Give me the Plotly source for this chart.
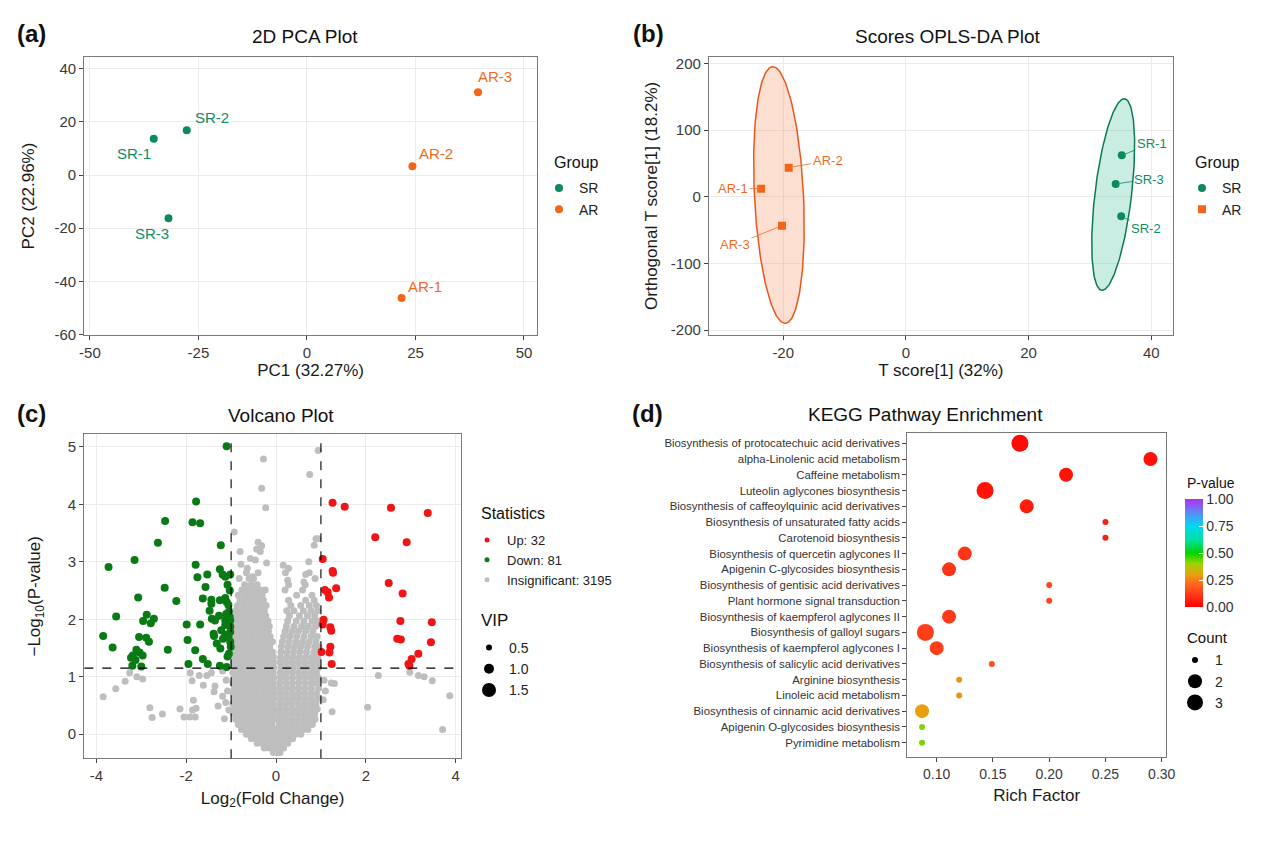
import numpy as np
import plotly.graph_objects as go

FONT = "Liberation Sans, Arial, Helvetica, sans-serif"
W, H = 1264, 851

# ---------------- (a) PCA data ----------------
pca_labels = ["SR-1", "SR-2", "SR-3", "AR-1", "AR-2", "AR-3"]
pca_group = ["SR", "SR", "SR", "AR", "AR", "AR"]
pca_pc1 = [-35.3, -27.7, -31.9, 21.8, 24.3, 39.4]
pca_pc2 = [13.6, 16.8, -16.3, -46.3, 3.3, 31.1]

# ---------------- (b) OPLS-DA data ----------------
opls_labels = ["SR-1", "SR-2", "SR-3", "AR-1", "AR-2", "AR-3"]
opls_group = ["SR", "SR", "SR", "AR", "AR", "AR"]
opls_t = [35.2, 35.1, 34.2, -23.6, -19.1, -20.2]
opls_o = [62.0, -29.5, 19.0, 12.0, 43.5, -43.5]
ellipse_group = ["AR", "SR"]
ellipse_cx = [-20.7, 33.8]
ellipse_cy = [2.5, 3.25]
ellipse_halfwidth = [4.0, 3.0]
ellipse_shear = [-1.0, 1.8]
ellipse_halfheight = [192.5, 143.75]

# ---------------- (c) Volcano data ----------------
fc_threshold = 1.0
p_threshold = 1.15
n_up, n_down, n_insig = 32, 81, 3195

down_x = [-1.10, -1.78, -2.47, -1.86, -1.69, -2.63, -1.23, -3.73, -3.15, -1.79,
          -1.75, -1.53, -1.25, -1.19, -1.13, -1.02, -2.48, -1.57, -1.08, -3.07,
          -2.22, -1.63, -1.44, -1.44, -1.13, -1.10, -3.56, -2.88, -2.72, -2.96,
          -2.79, -1.43, -1.36, -1.27, -1.11, -1.05, -1.99, -1.69, -1.13, -1.03,
          -3.85, -3.05, -2.89, -2.83, -1.38, -1.18, -1.13, -1.06, -1.02, -1.97,
          -3.64, -2.41, -3.11, -3.04, -3.19, -3.23, -2.97, -1.80, -1.32, -1.24,
          -1.63, -1.08, -1.05, -3.20, -3.00, -1.95, -1.52, -1.25, -1.10, -1.02,
          -1.02, -1.39, -1.13, -1.03, -1.06, -1.22, -1.01, -3.13, -1.25, -1.48, -1.02]
down_y = [5.01, 4.05, 3.71, 3.69, 3.67, 3.33, 3.29, 2.91, 3.03, 2.95,
          2.73, 2.78, 2.87, 2.78, 2.74, 2.78, 2.55, 2.56, 2.60, 2.38,
          2.32, 2.36, 2.34, 2.27, 2.37, 2.30, 2.05, 2.08, 2.01, 1.97,
          1.93, 2.01, 1.98, 2.06, 2.09, 2.13, 1.91, 1.91, 1.98, 2.04,
          1.71, 1.69, 1.68, 1.61, 1.71, 1.66, 1.73, 1.69, 1.61, 1.64,
          1.51, 1.47, 1.47, 1.42, 1.37, 1.33, 1.37, 1.46, 1.58, 1.49,
          1.31, 1.35, 1.40, 1.19, 1.18, 1.22, 1.22, 1.19, 1.17, 1.87,
          1.78, 1.75, 1.90, 2.50, 2.25, 1.81, 1.52, 1.29, 2.33, 2.15, 1.98]

up_x = [1.26, 1.53, 2.56, 3.38, 2.21, 2.91, 1.04, 1.26, 1.27, 2.51,
        1.34, 1.15, 1.18, 2.82, 1.06, 1.04, 1.21, 1.23, 2.77, 3.47,
        2.70, 2.78, 3.45, 1.01, 1.21, 1.19, 3.17, 3.02, 2.95, 2.97,
        1.24, 1.09]
up_y = [4.03, 3.96, 3.94, 3.85, 3.43, 3.34, 3.05, 2.84, 2.81, 2.63,
        2.54, 2.47, 2.38, 2.45, 1.99, 1.91, 1.86, 1.80, 1.97, 1.95,
        1.66, 1.65, 1.60, 1.43, 1.52, 1.42, 1.40, 1.31, 1.22, 1.19,
        1.22, 2.51]

# insignificant cloud: rows of (-log10 p, [log2 FC values])
gray_rows = [
    (-0.32, [-0.06, 0.02, 0.09]),
    (-0.24, [-0.26, -0.15, -0.04, 0.06, 0.17]),
    (-0.16, [-0.42, -0.31, -0.19, -0.08, 0.03, 0.14, 0.26]),
    (-0.08, [-0.55, -0.43, -0.31, -0.20, -0.09, 0.02, 0.13, 0.25, 0.37]),
    (0.00, [-0.66, -0.54, -0.42, -0.30, -0.18, -0.06, 0.05, 0.17, 0.30, 0.43, 0.55]),
    (0.08, [-0.77, -0.64, -0.51, -0.38, -0.26, -0.13, -0.03, 0.08, 0.21, 0.34, 0.47, 0.61, 0.71]),
    (0.17, [-0.84, -0.72, -0.59, -0.46, -0.33, -0.21, -0.09, 0.07, 0.19, 0.32, 0.45, 0.58, 0.71, 0.81]),
    (0.26, [-0.90, -0.78, -0.65, -0.52, -0.39, -0.26, -0.13, -0.03, 0.09, 0.22, 0.36, 0.50, 0.64, 0.77, 0.87]),
    (0.35, [-0.94, -0.82, -0.70, -0.57, -0.44, -0.31, -0.18, -0.06, 0.08, 0.20, 0.33, 0.47, 0.61, 0.74, 0.86]),
    (0.44, [-0.92, -0.80, -0.66, -0.53, -0.40, -0.27, -0.14, -0.04, 0.09, 0.23, 0.37, 0.51, 0.65, 0.79, 0.92]),
    (0.53, [-0.96, -0.84, -0.71, -0.58, -0.45, -0.32, -0.19, -0.07, 0.08, 0.21, 0.34, 0.48, 0.62, 0.76, 0.89]),
    (0.62, [-0.92, -0.79, -0.65, -0.52, -0.39, -0.26, -0.13, -0.04, 0.10, 0.24, 0.38, 0.52, 0.66, 0.80, 0.94]),
    (0.71, [-0.95, -0.82, -0.69, -0.56, -0.43, -0.30, -0.17, -0.06, 0.08, 0.21, 0.35, 0.49, 0.63, 0.77, 0.90]),
    (0.80, [-0.93, -0.80, -0.67, -0.54, -0.41, -0.28, -0.15, -0.04, 0.10, 0.24, 0.37, 0.51, 0.65, 0.79, 0.95]),
    (0.89, [-0.96, -0.84, -0.71, -0.58, -0.45, -0.32, -0.19, -0.07, 0.08, 0.22, 0.36, 0.50, 0.64, 0.78, 0.91]),
    (0.98, [-0.93, -0.80, -0.67, -0.54, -0.41, -0.28, -0.15, -0.05, 0.10, 0.23, 0.37, 0.52, 0.66, 0.80, 0.94]),
    (1.07, [-0.96, -0.83, -0.70, -0.57, -0.44, -0.31, -0.18, -0.07, 0.09, 0.22, 0.36, 0.50, 0.63, 0.77, 0.90]),
    (1.16, [-0.92, -0.79, -0.66, -0.53, -0.40, -0.27, -0.14, -0.05, 0.11, 0.25, 0.39, 0.53, 0.67, 0.81, 0.95]),
    (1.25, [-0.95, -0.82, -0.69, -0.56, -0.43, -0.30, -0.17, -0.06, 0.09, 0.22, 0.36, 0.50, 0.64, 0.78, 0.91]),
    (1.34, [-0.93, -0.81, -0.68, -0.55, -0.42, -0.29, -0.16, -0.06, 0.10, 0.24, 0.38, 0.52, 0.66, 0.80, 0.93]),
    (1.43, [-0.96, -0.83, -0.70, -0.57, -0.44, -0.31, -0.18, -0.08, 0.11, 0.25, 0.39, 0.53, 0.68, 0.84]),
    (1.52, [-0.92, -0.79, -0.66, -0.53, -0.40, -0.27, -0.14, 0.12, 0.27, 0.41, 0.55, 0.70, 0.86, 0.96]),
    (1.61, [-0.95, -0.82, -0.69, -0.56, -0.43, -0.30, -0.17, -0.08, 0.14, 0.29, 0.44, 0.59, 0.74, 0.89]),
    (1.70, [-0.91, -0.78, -0.65, -0.52, -0.39, -0.26, -0.13, 0.17, 0.31, 0.46, 0.62, 0.78, 0.92]),
    (1.79, [-0.94, -0.81, -0.68, -0.55, -0.42, -0.29, -0.17, 0.20, 0.35, 0.50, 0.66, 0.82]),
    (1.88, [-0.90, -0.77, -0.64, -0.51, -0.38, -0.25, -0.15, 0.23, 0.40, 0.57, 0.72, 0.88]),
    (1.97, [-0.93, -0.80, -0.67, -0.54, -0.41, -0.28, -0.18, 0.26, 0.45, 0.62, 0.80, 0.94]),
    (2.06, [-0.88, -0.75, -0.62, -0.49, -0.36, -0.23, 0.30, 0.52, 0.70, 0.86]),
    (2.15, [-0.91, -0.78, -0.65, -0.52, -0.39, -0.26, 0.24, 0.40, 0.61, 0.78, 0.93]),
    (2.24, [-0.86, -0.72, -0.58, -0.45, -0.32, -0.22, 0.33, 0.55, 0.74, 0.90]),
    (2.33, [-0.80, -0.66, -0.52, -0.40, -0.28, 0.28, 0.66, 0.85]),
    (2.42, [-0.84, -0.70, -0.57, -0.44, -0.31, 0.46, 0.80]),
    (2.51, [-0.76, -0.62, -0.48, -0.35, -0.24, 0.20, 0.59]),
    (2.60, [-0.70, -0.55, -0.42, 0.28, 0.65]),
    (2.71, [-0.82, -0.60, -0.50, 0.87]),
    (2.81, [-0.66, -0.40, 0.21, 0.74]),
]
gray_extra_x = [-0.28, -0.32, -0.23, -0.93, 0.94, 0.75, -0.40, -0.32, -0.43, -0.35,
                -0.80, -0.46, -0.21, -0.57, -0.78, -0.64, -0.53, 0.16, 0.28, 0.26,
                0.66, 0.62, 0.73, 0.85, 0.89, 0.94,
                -3.85, -3.57, -3.36, -3.26, -3.10, -2.97, -2.81, -2.76, -2.53, -2.14,
                -2.05, -1.92, -1.86, -1.80, -1.78, -1.84, -1.91, -1.87, -1.71, -1.62,
                -1.54, -1.44, -1.38, -1.29, -1.19, -1.11, -1.15, -1.19, -1.36, -1.05,
                -1.08, -1.12,
                2.28, 2.98, 3.17, 3.30, 3.48, 3.87, 2.04, 3.71, 1.23, 1.30,
                1.25, 1.07, 1.05, 1.10]
gray_extra_y = [4.79, 4.28, 3.94, 3.52, 4.94, 4.52, 3.34, 3.28, 3.22, 3.18,
                3.18, 3.03, 2.98, 3.06, 2.96, 2.89, 2.74, 2.94, 2.89, 2.68,
                2.78, 2.65, 3.00, 3.29, 3.40, 3.40,
                0.65, 0.79, 0.92, 1.07, 1.00, 0.96, 0.46, 0.29, 0.35, 0.44,
                0.30, 0.30, 0.42, 0.30, 0.45, 0.59, 1.07, 0.93, 1.02, 0.85,
                1.02, 1.07, 0.74, 0.49, 0.66, 0.94, 0.27, 1.10, 0.84, 0.42,
                0.75, 0.55,
                1.02, 1.08, 1.02, 1.00, 0.93, 0.67, 0.47, 0.08, 0.89, 0.88,
                0.39, 0.94, 0.60, 0.75]
gray_x = [x for _, xs in gray_rows for x in xs] + gray_extra_x
gray_y = [y for y, xs in gray_rows for _ in xs] + gray_extra_y

vip_levels = [0.5, 1.0, 1.5]

# ---------------- (d) KEGG data ----------------
kegg_pathways = [
    "Biosynthesis of protocatechuic acid derivatives",
    "alpha-Linolenic acid metabolism",
    "Caffeine metabolism",
    "Luteolin aglycones biosynthesis",
    "Biosynthesis of caffeoylquinic acid derivatives",
    "Biosynthesis of unsaturated fatty acids",
    "Carotenoid biosynthesis",
    "Biosynthesis of quercetin aglycones II",
    "Apigenin C-glycosides biosynthesis",
    "Biosynthesis of gentisic acid derivatives",
    "Plant hormone signal transduction",
    "Biosynthesis of kaempferol aglycones II",
    "Biosynthesis of galloyl sugars",
    "Biosynthesis of kaempferol aglycones I",
    "Biosynthesis of salicylic acid derivatives",
    "Arginine biosynthesis",
    "Linoleic acid metabolism",
    "Biosynthesis of cinnamic acid derivatives",
    "Apigenin O-glycosides biosynthesis",
    "Pyrimidine metabolism",
]
kegg_rich = [0.174, 0.290, 0.215, 0.143, 0.180, 0.250, 0.250, 0.125, 0.111, 0.200,
             0.200, 0.111, 0.090, 0.100, 0.149, 0.120, 0.120, 0.087, 0.087, 0.087]
kegg_p = [0.02, 0.03, 0.04, 0.04, 0.06, 0.06, 0.06, 0.11, 0.11, 0.14,
          0.14, 0.12, 0.13, 0.13, 0.16, 0.28, 0.28, 0.30, 0.42, 0.42]
kegg_count = [3, 2, 2, 3, 2, 1, 1, 2, 2, 1, 1, 2, 3, 2, 1, 1, 1, 2, 1, 1]
count_levels = [1, 2, 3]

# ---------------- styles ----------------
C_SR = "#0B8A5E"
C_AR = "#F2661A"
C_SR_TXT = "#0E8C62"
C_AR_TXT = "#F26A1E"
C_UP = "#F01414"
C_DOWN = "#0A7A14"
C_NS = "#BEBEBE"
grp_color = {"SR": C_SR, "AR": C_AR}
grp_txt = {"SR": C_SR_TXT, "AR": C_AR_TXT}
ell_line = {"AR": "#E8561E", "SR": "#0B7A50"}
ell_fill = {"AR": "rgba(248,140,90,0.28)", "SR": "rgba(50,185,145,0.26)"}
count_size = {1: 6, 2: 14, 3: 17}
vip_size = {0.5: 6, 1.0: 10, 1.5: 14}
p_colorscale = [[0.0, "#FF0000"], [0.12, "#FF3A1A"], [0.22, "#FF6A1E"], [0.3, "#E8A010"],
                [0.4, "#9CD400"], [0.5, "#00D400"], [0.62, "#00E0A0"], [0.75, "#00D8F0"],
                [0.87, "#5A8CF5"], [1.0, "#B030F0"]]

# label offsets (pixels) – style only
pca_shift = {"SR-1": (-20, -15), "SR-2": (25, 13), "SR-3": (-17, -15),
             "AR-1": (23, 12), "AR-2": (24, 13), "AR-3": (17, 16)}
opls_shift = {"SR-1": (30, -12), "SR-2": (25, 12), "SR-3": (33, -5),
              "AR-1": (-28, 0), "AR-2": (39, -7), "AR-3": (-47, 19)}


def px(xp):
    return xp / W


def py(yp):
    return 1 - yp / H


def hyphen(vals, fmt="{:g}"):
    return [fmt.format(v).replace("\u2212", "-") for v in vals]


fig = go.Figure()

# (a)
for g in ["SR", "AR"]:
    idx = [i for i, gg in enumerate(pca_group) if gg == g]
    fig.add_trace(go.Scatter(
        x=[pca_pc1[i] for i in idx], y=[pca_pc2[i] for i in idx], mode="markers",
        marker=dict(color=grp_color[g], size=8), name=g, xaxis="x", yaxis="y",
        legend="legend", hoverinfo="skip"))

# (b) ellipses
t = np.linspace(0, 2 * np.pi, 200)
for k, g in enumerate(ellipse_group):
    ex = ellipse_cx[k] + ellipse_halfwidth[k] * np.cos(t) + ellipse_shear[k] * np.sin(t)
    ey = ellipse_cy[k] + ellipse_halfheight[k] * np.sin(t)
    fig.add_trace(go.Scatter(x=ex, y=ey, mode="lines", fill="toself",
                             fillcolor=ell_fill[g], line=dict(color=ell_line[g], width=1.5),
                             xaxis="x2", yaxis="y2", showlegend=False, hoverinfo="skip"))
for g, sym in [("SR", "circle"), ("AR", "square")]:
    idx = [i for i, gg in enumerate(opls_group) if gg == g]
    fig.add_trace(go.Scatter(
        x=[opls_t[i] for i in idx], y=[opls_o[i] for i in idx], mode="markers",
        marker=dict(color=grp_color[g], size=8, symbol=sym), name=g,
        xaxis="x2", yaxis="y2", legend="legend2", hoverinfo="skip"))

# (c) volcano
fig.add_trace(go.Scatter(x=gray_x, y=gray_y, mode="markers",
                         marker=dict(color=C_NS, size=7), xaxis="x3", yaxis="y3",
                         showlegend=False, hoverinfo="skip"))
fig.add_trace(go.Scatter(x=down_x, y=down_y, mode="markers",
                         marker=dict(color=C_DOWN, size=8), xaxis="x3", yaxis="y3",
                         showlegend=False, hoverinfo="skip"))
fig.add_trace(go.Scatter(x=up_x, y=up_y, mode="markers",
                         marker=dict(color=C_UP, size=8), xaxis="x3", yaxis="y3",
                         showlegend=False, hoverinfo="skip"))
for name, col in [(f"Up: {n_up}", C_UP), (f"Down: {n_down}", C_DOWN),
                  (f"Insignificant: {n_insig}", C_NS)]:
    fig.add_trace(go.Scatter(x=[None], y=[None], mode="markers", name=name,
                             marker=dict(color=col, size=5), xaxis="x3", yaxis="y3",
                             legend="legend3"))
for v in vip_levels:
    fig.add_trace(go.Scatter(x=[None], y=[None], mode="markers", name=f"{v:.1f}",
                             marker=dict(color="black", size=vip_size[v]), xaxis="x3",
                             yaxis="y3", legend="legend4"))

# (d) KEGG
fig.add_trace(go.Scatter(
    x=kegg_rich, y=kegg_pathways, mode="markers", xaxis="x4", yaxis="y4",
    marker=dict(size=[count_size[c] for c in kegg_count], color=kegg_p,
                colorscale=p_colorscale, cmin=0, cmax=1, opacity=1,
                line=dict(width=0),
                colorbar=dict(x=px(1185), xanchor="left", xpad=0, ypad=0,
                              y=py(553), yanchor="middle", len=108 / H, lenmode="fraction",
                              thickness=18, outlinewidth=0,
                              tickvals=[0, 0.25, 0.5, 0.75, 1.0],
                              ticktext=["0.00", "0.25", "0.50", "0.75", "1.00"],
                              ticks="inside", ticklen=4, tickcolor="white",
                              tickfont=dict(size=14, color="#333333", family=FONT))),
    showlegend=False, hoverinfo="skip"))
for c in count_levels:
    fig.add_trace(go.Scatter(x=[None], y=[None], mode="markers", name=str(c),
                             marker=dict(color="black", size=count_size[c]),
                             xaxis="x4", yaxis="y4", legend="legend5"))

# ---------------- axes ----------------
tickfont = dict(size=15, color="#3a3a3a", family=FONT)
titlefont = dict(size=17, color="#1a1a1a", family=FONT)


def ax(domain, rng, tickvals, title, anchor, standoff, grid=True, ticktext=None, **kw):
    d = dict(domain=domain, range=rng, tickvals=tickvals,
             ticktext=ticktext if ticktext is not None else hyphen(tickvals),
             anchor=anchor,
             showline=True, mirror=True, linecolor="#7a7a7a", linewidth=1.2,
             ticks="outside", ticklen=4, tickcolor="#444444", tickwidth=1,
             showgrid=grid, gridcolor="#EBEBEB", gridwidth=1, zeroline=False,
             tickfont=tickfont, automargin=False,
             title=dict(text=title, font=titlefont, standoff=standoff))
    d.update(kw)
    return d


layout = dict(
    width=W, height=H, margin=dict(l=0, r=0, t=0, b=0),
    paper_bgcolor="white", plot_bgcolor="white", font=dict(family=FONT),
    xaxis=ax([px(84.3), px(537)], [-51.3, 53.0], [-50, -25, 0, 25, 50], "PC1 (32.27%)", "y", 3),
    yaxis=ax([py(335), py(57)], [-60.2, 44.4], [-60, -40, -20, 0, 20, 40], "PC2 (22.96%)", "x", 15),
    xaxis2=ax([px(709), px(1172.7)], [-32.1, 43.5], [-20, 0, 20, 40], "T score[1] (32%)", "y2", 3),
    yaxis2=ax([py(335), py(56.7)], [-207.5, 210], [-200, -100, 0, 100, 200],
              "Orthogonal T score[1] (18.2%)", "x2", 8),
    xaxis3=ax([px(84.3), px(461)], [-4.27, 4.12], [-4, -2, 0, 2, 4],
              "Log<sub>2</sub>(Fold Change)", "y3", 8),
    yaxis3=ax([py(758.3), py(434.3)], [-0.42, 5.22], [0, 1, 2, 3, 4, 5],
              "\u2212Log<sub>10</sub>(P-value)", "x3", 22),
    xaxis4=ax([px(907.3), px(1166)], [0.0739, 0.3038], [0.10, 0.15, 0.20, 0.25, 0.30],
              "Rich Factor", "y4", 8, grid=False,
              ticktext=["0.10", "0.15", "0.20", "0.25", "0.30"],
              tickfont=dict(size=14, color="#3a3a3a", family=FONT)),
    yaxis4=dict(domain=[py(756.7), py(433.3)], anchor="x4", type="category",
                categoryorder="array", categoryarray=kegg_pathways,
                range=[19.89, -0.635], showline=True, mirror=True, linecolor="#7a7a7a",
                linewidth=1.2, ticks="outside", ticklen=4, tickcolor="#444444",
                showgrid=False, zeroline=False, automargin=False,
                tickfont=dict(size=11.4, color="#333333", family=FONT)),
)

leg_common = dict(xanchor="left", yanchor="top", bgcolor="rgba(0,0,0,0)",
                  borderwidth=0, tracegroupgap=0, itemclick=False, itemdoubleclick=False)
layout["legend"] = dict(x=px(539), y=py(172.4), font=dict(size=14, color="#222", family=FONT), **leg_common)
layout["legend2"] = dict(x=px(1182), y=py(172.4), font=dict(size=14, color="#222", family=FONT), **leg_common)
layout["legend3"] = dict(x=px(467), y=py(525), font=dict(size=13, color="#222", family=FONT), **leg_common)
layout["legend4"] = dict(x=px(469), y=py(632), font=dict(size=14, color="#222", family=FONT), **leg_common)
layout["legend5"] = dict(x=px(1175), y=py(644.4), font=dict(size=14, color="#222", family=FONT), **leg_common)

fig.update_layout(**layout)

# dashed threshold lines
for xv in [-fc_threshold, fc_threshold]:
    fig.add_shape(type="line", xref="x3", yref="y3 domain", x0=xv, x1=xv, y0=0, y1=1,
                  line=dict(color="black", width=1.1, dash="dash"))
fig.add_shape(type="line", xref="x3 domain", yref="y3", x0=0, x1=1, y0=p_threshold,
              y1=p_threshold, line=dict(color="black", width=1.1, dash="dash"))

# ---------------- annotations ----------------
ann = []


def paper_text(text, xp, yp, size, anchor="center", bold=False, color="#111111"):
    ann.append(dict(text=f"<b>{text}</b>" if bold else text, x=px(xp), y=py(yp),
                    xref="paper", yref="paper", xanchor=anchor, yanchor="middle",
                    showarrow=False, font=dict(size=size, color=color, family=FONT)))


paper_text("(a)", 15, 33, 24, "left", True)
paper_text("(b)", 631, 33, 24, "left", True)
paper_text("(c)", 15, 413, 24, "left", True)
paper_text("(d)", 630, 413, 24, "left", True)
paper_text("2D PCA Plot", 305, 36, 19)
paper_text("Scores OPLS-DA Plot", 948, 36, 19)
paper_text("Volcano Plot", 281, 415, 19)
paper_text("KEGG Pathway Enrichment", 925, 414, 19)
paper_text("Group", 552, 163, 16, "left")
paper_text("Group", 1193, 163, 16, "left")
paper_text("Statistics", 479, 513, 16, "left")
paper_text("VIP", 479, 620, 17, "left")
paper_text("P-value", 1185, 483, 14, "left")
paper_text("Count", 1185, 637, 15, "left")

for i, lab in enumerate(pca_labels):
    dx, dy = pca_shift[lab]
    ann.append(dict(text=lab, x=pca_pc1[i], y=pca_pc2[i], xref="x", yref="y",
                    showarrow=False, xshift=dx, yshift=dy,
                    font=dict(size=15, color=grp_txt[pca_group[i]], family=FONT)))
for i, lab in enumerate(opls_labels):
    dx, dy = opls_shift[lab]
    col = grp_txt[opls_group[i]]
    ann.append(dict(text=lab, x=opls_t[i], y=opls_o[i], xref="x2", yref="y2",
                    showarrow=True, arrowhead=0, arrowwidth=0.8, arrowcolor=col,
                    ax=dx, ay=dy, standoff=4,
                    font=dict(size=13, color=col, family=FONT)))

fig.update_layout(annotations=ann)
fig.write_html("out.html", config={"displayModeBar": False})
